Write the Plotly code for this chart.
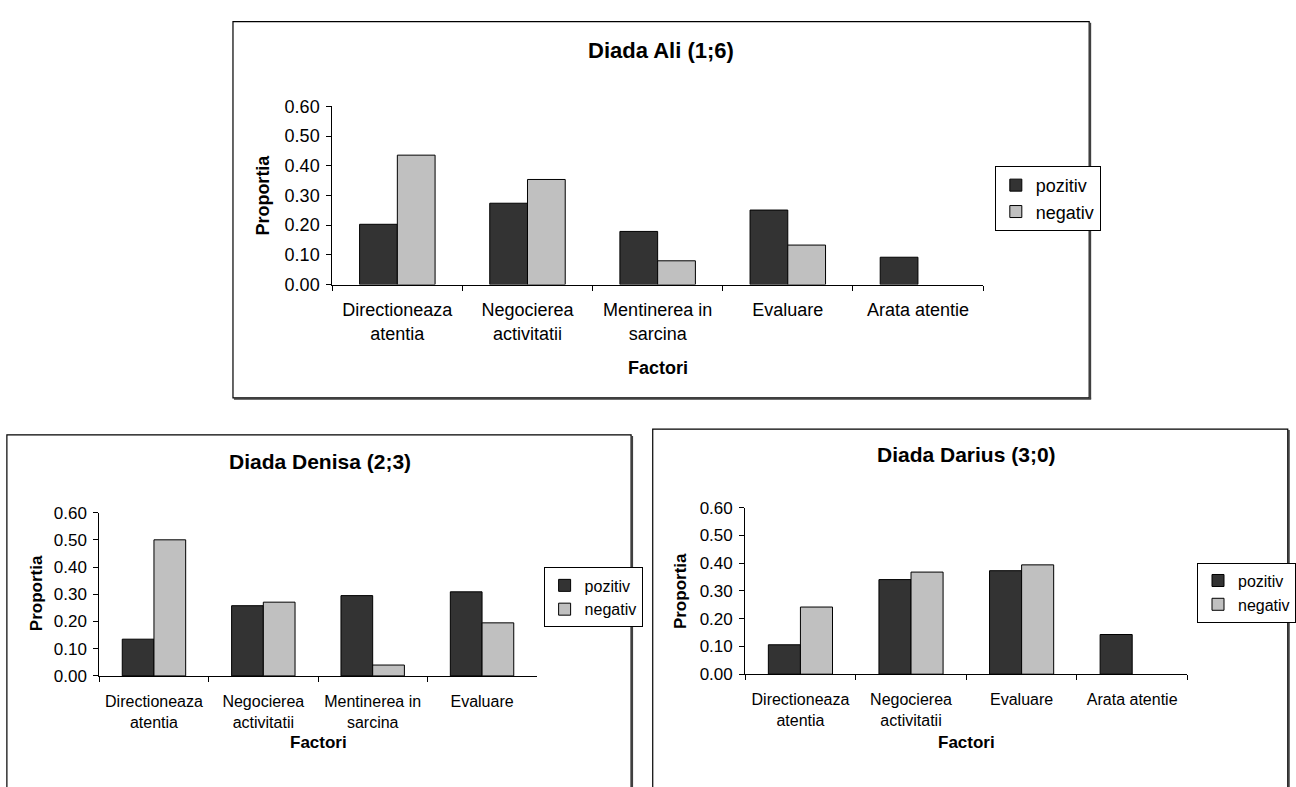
import plotly.graph_objects as go

# Diada Ali (1;6)
ali_categories = ["Directioneaza<br>atentia", "Negocierea<br>activitatii", "Mentinerea in<br>sarcina",
                  "Evaluare", "Arata atentie"]
ali_pozitiv = [0.203, 0.274, 0.179, 0.251, 0.092]
ali_negativ = [0.436, 0.354, 0.080, 0.133, None]

# Diada Denisa (2;3)
denisa_categories = ["Directioneaza<br>atentia", "Negocierea<br>activitatii", "Mentinerea in<br>sarcina",
                     "Evaluare"]
denisa_pozitiv = [0.135, 0.258, 0.295, 0.309]
denisa_negativ = [0.500, 0.271, 0.040, 0.195]

# Diada Darius (3;0)
darius_categories = ["Directioneaza<br>atentia", "Negocierea<br>activitatii", "Evaluare", "Arata atentie"]
darius_pozitiv = [0.106, 0.341, 0.373, 0.143]
darius_negativ = [0.242, 0.368, 0.394, None]

y_ticks = [0.0, 0.1, 0.2, 0.3, 0.4, 0.5, 0.6]

W, H = 1296, 787
FONT = "Liberation Sans, Arial, sans-serif"
DARK = "#333333"
LIGHT = "#c0c0c0"


def px_x(p):
    return p / W


def px_y(p):
    return 1 - p / H


panels = [
    dict(name="Diada Ali (1;6)", cats=ali_categories, poz=ali_pozitiv, neg=ali_negativ,
         xd=(338, 1000), yd=(281.7, 99), box=(237, 1108, 12, 398),
         title_xy=(672, 42), ytitle_xy=(268, 190), xtitle_y=367,
         legend_xy=(1012, 160), tick=18, xtick=18, xstand=9, title=22, axt=18, leg=18, gap=0),
    dict(name="Diada Denisa (2;3)", cats=denisa_categories, poz=denisa_pozitiv, neg=denisa_negativ,
         xd=(101, 546), yd=(683.3, 515.7), box=(7, 642, 436, 800),
         title_xy=(326, 463), ytitle_xy=(37, 598), xtitle_y=752,
         legend_xy=(553, 572), tick=17, xtick=16, xstand=11, title=21, axt=17, leg=16, gap=0),
    dict(name="Diada Darius (3;0)", cats=darius_categories, poz=darius_pozitiv, neg=darius_negativ,
         xd=(758, 1208), yd=(681.5, 510.7), box=(664, 1310, 430, 800),
         title_xy=(983, 456), ytitle_xy=(693, 596), xtitle_y=752,
         legend_xy=(1218, 567), tick=17, xtick=16, xstand=11, title=21, axt=17, leg=16, gap=0),
]

fig = go.Figure()
annotations = []
shapes = []
layout_axes = {}

for i, p in enumerate(panels):
    n = "" if i == 0 else str(i + 1)
    xa, ya = "x" + n, "y" + n
    lg = "legend" + n
    fig.add_trace(go.Bar(x=p["cats"], y=p["poz"], name="pozitiv", xaxis=xa, yaxis=ya,
                         marker=dict(color=DARK, line=dict(color="black", width=1)),
                         legend=lg, legendgroup=f"p{i}", hoverinfo="y"))
    fig.add_trace(go.Bar(x=p["cats"], y=p["neg"], name="negativ", xaxis=xa, yaxis=ya,
                         marker=dict(color=LIGHT, line=dict(color="black", width=1)),
                         legend=lg, legendgroup=f"n{i}", hoverinfo="y"))

    layout_axes["xaxis" + n] = dict(
        domain=[px_x(p["xd"][0]), px_x(p["xd"][1])], anchor=ya, type="category",
        showline=True, linecolor="#000000", linewidth=1, ticks="outside", ticklen=5,
        tickcolor="#000000", tickson="boundaries", showgrid=False, zeroline=False,
        ticklabelstandoff=p["xstand"], tickangle=0,
        tickfont=dict(family=FONT, size=p["xtick"], color="black"), fixedrange=True)
    layout_axes["yaxis" + n] = dict(
        domain=[px_y(p["yd"][0]), px_y(p["yd"][1])], anchor=xa, range=[0, 0.6],
        tickvals=y_ticks, tickformat=".2f", showline=True, linecolor="#000000", linewidth=1,
        ticks="outside", ticklen=5, tickcolor="#000000", showgrid=False, zeroline=False,
        ticklabelstandoff=3,
        tickfont=dict(family=FONT, size=p["tick"], color="black"), fixedrange=True)

    layout_axes[lg] = dict(
        x=px_x(p["legend_xy"][0]), y=px_y(p["legend_xy"][1]), xanchor="left", yanchor="top",
        bgcolor="white", bordercolor="black", borderwidth=1, itemwidth=30,
        tracegroupgap=p["gap"], font=dict(family=FONT, size=p["leg"], color="black"))

    # chart-area frame: thin outline with a darker right/bottom edge
    x0, x1, y0, y1 = p["box"]
    shapes.append(dict(type="rect", xref="paper", yref="paper",
                       x0=px_x(x0), x1=px_x(x1), y0=px_y(y1), y1=px_y(y0),
                       line=dict(color="black", width=1.2), fillcolor="rgba(0,0,0,0)", layer="below"))
    shapes.append(dict(type="line", xref="paper", yref="paper",
                       x0=px_x(x1 + 1), x1=px_x(x1 + 1), y0=px_y(y1 + 1), y1=px_y(y0 + 1),
                       line=dict(color="#404040", width=2), layer="below"))
    shapes.append(dict(type="line", xref="paper", yref="paper",
                       x0=px_x(x0 + 1), x1=px_x(x1 + 2), y0=px_y(y1 + 1), y1=px_y(y1 + 1),
                       line=dict(color="#404040", width=2), layer="below"))

    annotations.append(dict(text=f"<b>{p['name']}</b>", x=px_x(p["title_xy"][0]), y=px_y(p["title_xy"][1]),
                            xref="paper", yref="paper", showarrow=False, xanchor="center", yanchor="middle",
                            font=dict(family=FONT, size=p["title"], color="black")))
    annotations.append(dict(text="<b>Proportia</b>", x=px_x(p["ytitle_xy"][0]), y=px_y(p["ytitle_xy"][1]),
                            xref="paper", yref="paper", showarrow=False, textangle=-90,
                            xanchor="center", yanchor="middle",
                            font=dict(family=FONT, size=p["axt"], color="black")))
    annotations.append(dict(text="<b>Factori</b>", x=(px_x(p["xd"][0]) + px_x(p["xd"][1])) / 2,
                            y=px_y(p["xtitle_y"]), xref="paper", yref="paper", showarrow=False,
                            xanchor="center", yanchor="middle",
                            font=dict(family=FONT, size=p["axt"], color="black")))

fig.update_layout(
    width=W, height=H, margin=dict(l=0, r=0, t=0, b=0),
    paper_bgcolor="white", plot_bgcolor="white",
    barmode="group", bargap=0.42, bargroupgap=0,
    font=dict(family=FONT, color="black"),
    annotations=annotations, shapes=shapes,
    **layout_axes,
)

fig.write_html("out.html")
